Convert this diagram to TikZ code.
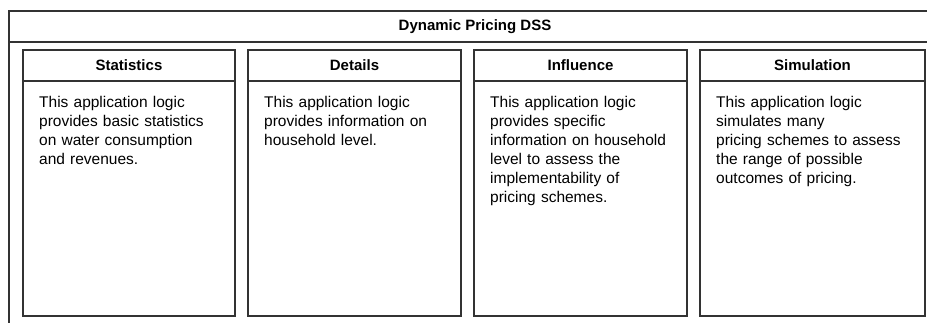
\documentclass[tikz,border=0pt]{standalone}
\usepackage{fontspec}
\setmainfont{Liberation Sans}
\usetikzlibrary{positioning}

\colorlet{edge}{black!80}
\tikzset{
    frame/.style={draw=edge, line width=1.2pt},
    headbox/.style={draw=edge, line width=1.2pt, outer sep=0pt, inner sep=0pt,
        minimum height=31pt, anchor=north west,
        font=\bfseries\fontsize{15}{18}\selectfont},
    bodybox/.style={draw=edge, line width=1.2pt, outer sep=0pt, inner sep=0pt,
        minimum height=235pt},
    desc/.style={align=left, text width=200pt, inner sep=0pt,
        font=\fontsize{15.5}{19}\selectfont}
}

\begin{document}
\begin{tikzpicture}[x=1pt,y=-1pt]
    \useasboundingbox (0,0) rectangle (927,322);
    \clip (0,0) rectangle (927,322);

    % outer package with its title bar
    \draw[frame] (9,11) rectangle (960,340);
    \node[headbox, minimum width=932pt] (dss) at (9,11) {Dynamic Pricing DSS};

    % the four application logics
    \node[headbox, minimum width=212pt] (stat) at (23,50) {Statistics};
    \node[bodybox, minimum width=212pt, below=0pt of stat] (statbody) {};
    \node[desc, below right=15pt and 16pt of statbody.north west] (stattext)
        {This application logic\\provides basic statistics\\on water consumption\\and revenues.};

    \node[headbox, minimum width=213pt] (det) at (248,50) {Details};
    \node[bodybox, minimum width=213pt, below=0pt of det] (detbody) {};
    \node[desc, below right=15pt and 16pt of detbody.north west] (dettext)
        {This application logic\\provides information on\\household level.};

    \node[headbox, minimum width=213pt] (infl) at (474,50) {Influence};
    \node[bodybox, minimum width=213pt, below=0pt of infl] (inflbody) {};
    \node[desc, below right=15pt and 16pt of inflbody.north west] (infltext)
        {This application logic\\provides specific\\information on household\\level to assess the\\implementability of\\pricing schemes.};

    \node[headbox, minimum width=225pt] (sim) at (700,50) {Simulation};
    \node[bodybox, minimum width=225pt, below=0pt of sim] (simbody) {};
    \node[desc, below right=15pt and 16pt of simbody.north west] (simtext)
        {This application logic\\simulates many\\pricing schemes to assess\\the range of possible\\outcomes of pricing.};

\end{tikzpicture}
\end{document}
